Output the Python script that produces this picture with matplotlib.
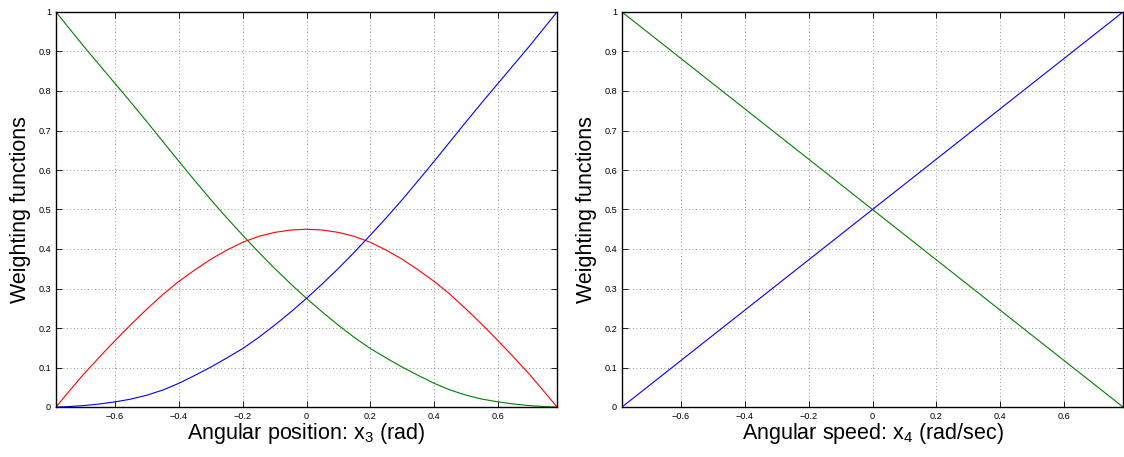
import matplotlib
matplotlib.use("Agg")
import matplotlib.pyplot as plt

plt.rcParams['font.family'] = ['Liberation Sans', 'DejaVu Sans']
plt.rcParams['mathtext.fontset'] = 'custom'
plt.rcParams['mathtext.rm'] = 'Liberation Sans'
plt.rcParams['mathtext.it'] = 'Liberation Sans'

# Weighting functions over angular position x3 (rad)
x3 = [-0.785, -0.75, -0.70, -0.65, -0.60, -0.55, -0.50, -0.45, -0.40, -0.35,
      -0.30, -0.25, -0.20, -0.15, -0.10, -0.05, 0.00, 0.05, 0.10, 0.15,
      0.20, 0.25, 0.30, 0.35, 0.40, 0.45, 0.50, 0.55, 0.60, 0.65,
      0.70, 0.75, 0.785]
w3_high = [0.000, 0.0008, 0.0035, 0.0075, 0.013, 0.020, 0.030, 0.043, 0.060, 0.080,
           0.101, 0.124, 0.148, 0.176, 0.207, 0.240, 0.275, 0.312, 0.351, 0.392,
           0.435, 0.479, 0.525, 0.573, 0.622, 0.672, 0.722, 0.771, 0.819, 0.867,
           0.915, 0.965, 1.000]
w3_low = [1.000, 0.965, 0.915, 0.867, 0.819, 0.771, 0.722, 0.672, 0.622, 0.573,
          0.525, 0.479, 0.435, 0.392, 0.351, 0.312, 0.275, 0.240, 0.207, 0.176,
          0.148, 0.124, 0.101, 0.080, 0.060, 0.043, 0.030, 0.020, 0.013, 0.0075,
          0.0035, 0.0008, 0.000]
w3_mid = [0.000, 0.034, 0.0815, 0.1255, 0.168, 0.209, 0.248, 0.285, 0.318, 0.347,
          0.374, 0.397, 0.417, 0.432, 0.442, 0.448, 0.450, 0.448, 0.442, 0.432,
          0.417, 0.397, 0.374, 0.347, 0.318, 0.285, 0.248, 0.209, 0.168, 0.1255,
          0.0815, 0.034, 0.000]

# Weighting functions over angular speed x4 (rad/sec)
x4 = [-0.785, 0.0, 0.785]
w4_high = [0.0, 0.5, 1.0]
w4_low = [1.0, 0.5, 0.0]

xticks = [-0.6, -0.4, -0.2, 0, 0.2, 0.4, 0.6]
xticklabels = ['\u22120.6', '\u22120.4', '\u22120.2', '0', '0.2', '0.4', '0.6']
yticks = [0, 0.1, 0.2, 0.3, 0.4, 0.5, 0.6, 0.7, 0.8, 0.9, 1]
yticklabels = ['0', '0.1', '0.2', '0.3', '0.4', '0.5', '0.6', '0.7', '0.8', '0.9', '1']

BLUE = (0, 0, 1)
GREEN = (0, 0.5, 0)
RED = (1, 0, 0)

W, H = 1124, 457
fig = plt.figure(figsize=(W / 100, H / 100), dpi=100)
ax1 = fig.add_axes([56 / W, (H - 407) / H, 501 / W, 395 / H])
ax2 = fig.add_axes([622 / W, (H - 407) / H, 501 / W, 395 / H])


def style(ax, xlabel):
    ax.set_xlim(-0.785, 0.785)
    ax.set_ylim(0, 1)
    ax.set_xticks(xticks)
    ax.set_xticklabels(xticklabels)
    ax.set_yticks(yticks)
    ax.set_yticklabels(yticklabels)
    ax.tick_params(direction='in', length=4.5, width=0.6, top=True, right=True,
                   labelsize=6.6, pad=3.5, colors='black')
    ax.grid(True, linestyle=(0, (1, 3.2)), color='0.45', linewidth=0.6)
    for sp in ax.spines.values():
        sp.set_linewidth(1.0)
    ax.set_xlabel(xlabel, fontsize=15.5, labelpad=0)
    ax.set_ylabel('Weighting functions', fontsize=15.5, labelpad=5)


ax1.plot(x3, w3_low, color=GREEN, lw=0.8)
ax1.plot(x3, w3_mid, color=RED, lw=0.8)
ax1.plot(x3, w3_high, color=BLUE, lw=0.8)
style(ax1, 'Angular position: x$_3$ (rad)')

ax2.plot(x4, w4_low, color=GREEN, lw=0.8)
ax2.plot(x4, w4_high, color=BLUE, lw=0.8)
style(ax2, 'Angular speed: x$_4$ (rad/sec)')

fig.savefig('out.png', dpi=100)
